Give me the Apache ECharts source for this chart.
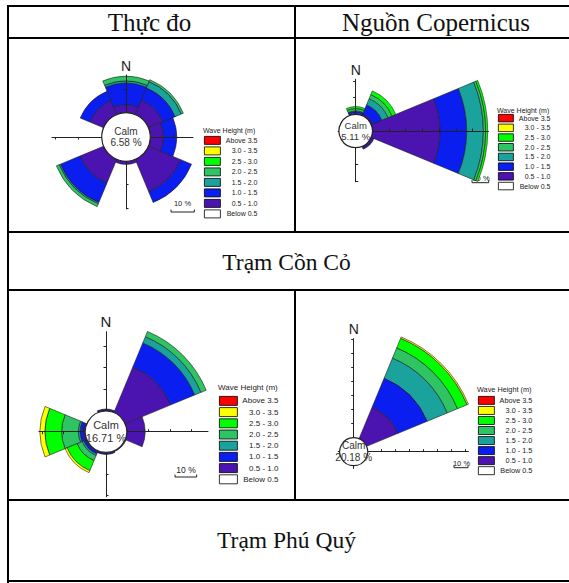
<!DOCTYPE html>
<html>
<head>
<meta charset="utf-8">
<script src="https://cdn.jsdelivr.net/npm/echarts@6/dist/echarts.min.js"></script>
<style>
html,body{margin:0;padding:0;background:#fff;width:569px;height:583px;overflow:hidden;}
#page{position:relative;width:569px;height:583px;}
#chart{position:absolute;left:0;top:0;width:569px;height:583px;}
.ln{position:absolute;background:#000;z-index:5;}
.tx{position:absolute;font-family:"Liberation Serif","Times New Roman",serif;font-size:25px;color:#111;text-align:center;white-space:nowrap;z-index:5;}
.st{font-size:23.5px;}
</style>
</head>
<body>
<div id="page">
  <div id="chart"></div>
  <div class="ln" style="left:7px;top:5px;width:2px;height:578px"></div>
  <div class="ln" style="left:7px;top:5px;width:562px;height:2px"></div>
  <div class="ln" style="left:7px;top:37px;width:562px;height:2px"></div>
  <div class="ln" style="left:294px;top:5px;width:2px;height:228px"></div>
  <div class="ln" style="left:7px;top:231px;width:562px;height:2px"></div>
  <div class="ln" style="left:7px;top:289px;width:562px;height:2px"></div>
  <div class="ln" style="left:294px;top:289px;width:2px;height:212px"></div>
  <div class="ln" style="left:7px;top:499px;width:562px;height:2px"></div>
  <div class="ln" style="left:7px;top:580px;width:562px;height:2px"></div>
  <div class="tx" id="h0" style="left:7px;width:285px;top:7px;height:30px;line-height:31px"></div>
  <div class="tx" id="h1" style="left:296px;width:280px;top:7px;height:30px;line-height:31px"></div>
  <div class="tx st" id="s0" style="left:5px;width:563px;top:233px;height:56px;line-height:58px"></div>
  <div class="tx st" id="s1" style="left:5px;width:563px;top:501px;height:79px;line-height:79px"></div>
</div>
<script>
// ---------- text ----------
const headerLabels = ['Thực đo', 'Nguồn Copernicus'];
const stationLabels = ['Trạm Cồn Cỏ', 'Trạm Phú Quý'];
const legendTitle = 'Wave Height (m)';
const calmTitle = 'Calm';
const scaleLabel = '10 %';
const northLabel = 'N';

// ---------- categories ----------
const directions = ['N', 'NE', 'E', 'SE', 'S', 'SW', 'W', 'NW'];
const waveBins = ['Above 3.5', '3.0 - 3.5', '2.5 - 3.0', '2.0 - 2.5', '1.5 - 2.0', '1.0 - 1.5', '0.5 - 1.0', 'Below 0.5'];

// ---------- data (% frequency per direction) ----------
// Con Co - measured
const conCoObsCalm = 6.58;
const conCoObs_05_10 = [3.4, 6.7, 5.6, 15.0, 1.3, 11.0, 0, 6.4];
const conCoObs_10_15 = [9.3, 5.7, 5.7, 5.0, 0, 9.0, 0, 4.4];
const conCoObs_15_20 = [0.9, 2.9, 0, 0, 0, 0.6, 0, 0];
const conCoObs_20_25 = [2.0, 0.9, 0, 0, 0, 1.3, 0, 0];
const conCoObs_25_30 = [0, 0, 0, 0, 0, 0, 0, 0];
const conCoObs_30_35 = [0, 0, 0, 0, 0, 0, 0, 0];
const conCoObs_above35 = [0, 0, 0, 0, 0, 0, 0, 0];

// Con Co - Copernicus
const conCoCopCalm = 5.11;
const conCoCop_05_10 = [0.4, 1.0, 40.6, 1.2, 0, 0, 0, 0];
const conCoCop_10_15 = [1.2, 6.0, 16.0, 0.6, 0, 0, 0, 0];
const conCoCop_15_20 = [0.4, 4.0, 10.0, 0, 0, 0, 0, 0];
const conCoCop_20_25 = [1.4, 2.6, 1.4, 0, 0, 0, 0, 0];
const conCoCop_25_30 = [1.2, 2.4, 1.2, 0, 0, 0, 0, 0];
const conCoCop_30_35 = [0, 0, 0, 0, 0, 0, 0, 0];
const conCoCop_above35 = [0, 0, 0, 0, 0, 0, 0, 0];

// Phu Quy - measured
const phuQuyObsCalm = 16.71;
const phuQuyObs_05_10 = [0.5, 22.8, 8.5, 0.4, 0.6, 0.6, 0.9, 0];
const phuQuyObs_10_15 = [0.4, 12.0, 0, 0, 0.3, 1.0, 1.5, 0];
const phuQuyObs_15_20 = [0, 3.1, 0, 0, 0, 0.8, 0.8, 0];
const phuQuyObs_20_25 = [0, 2.6, 0, 0, 0, 2.5, 7.7, 0];
const phuQuyObs_25_30 = [0, 0, 0, 0, 0, 5.0, 7.7, 0];
const phuQuyObs_30_35 = [0, 0, 0, 0, 0, 1.0, 2.3, 0];
const phuQuyObs_above35 = [0, 0, 0, 0, 0, 0, 0, 0];

// Phu Quy - Copernicus
const phuQuyCopCalm = 20.18;
const phuQuyCop_05_10 = [0, 24.3, 0, 0, 0, 0, 0, 0];
const phuQuyCop_10_15 = [0, 22.6, 0, 0, 0, 0, 0, 0];
const phuQuyCop_15_20 = [0, 15.5, 0, 0, 0, 0, 0, 0];
const phuQuyCop_20_25 = [0, 7.9, 0, 0, 0, 0, 0, 0];
const phuQuyCop_25_30 = [0, 7.4, 0, 0, 0, 0, 0, 0];
const phuQuyCop_30_35 = [0, 1.0, 0, 0, 0, 0, 0, 0];
const phuQuyCop_above35 = [0, 0, 0, 0, 0, 0, 0, 0];

document.getElementById('h0').textContent = headerLabels[0];
document.getElementById('h1').textContent = headerLabels[1];
document.getElementById('s0').textContent = stationLabels[0];
document.getElementById('s1').textContent = stationLabels[1];

// ---------- styles ----------
const binColors = {
  'Above 3.5': '#ff0000', '3.0 - 3.5': '#ffff00', '2.5 - 3.0': '#00ff00', '2.0 - 2.5': '#2ec463',
  '1.5 - 2.0': '#1aa39c', '1.0 - 1.5': '#0b1ef0', '0.5 - 1.0': '#4b14b0', 'Below 0.5': '#ffffff'
};
const stackOrder = ['0.5 - 1.0', '1.0 - 1.5', '1.5 - 2.0', '2.0 - 2.5', '2.5 - 3.0', '3.0 - 3.5', 'Above 3.5'];
const SANS = '"Liberation Sans", Arial, sans-serif';

const roses = [
  { key: 'A', calm: conCoObsCalm,
    bins: [conCoObs_05_10, conCoObs_10_15, conCoObs_15_20, conCoObs_20_25, conCoObs_25_30, conCoObs_30_35, conCoObs_above35],
    center: [126, 137], ppp: 2.333, calmPx: 24.3, maxPct: 24,
    arms: { N: 62, E: 67, S: 72, W: 74 }, nGap: 2, nSize: 14, calmFs: 10,
    lg: { x: 204, y: 136, w: 16, h: 8, pitch: 9.7, tw: 32, fs: 7, ty: 127 },
    sb: { x: 171, y: 212, tx: 182.5, ty: 203, fs: 7.5 } },
  { key: 'B', calm: conCoCopCalm,
    bins: [conCoCop_05_10, conCoCop_10_15, conCoCop_15_20, conCoCop_20_25, conCoCop_25_30, conCoCop_30_35, conCoCop_above35],
    center: [355.7, 131], ppp: 1.667, calmPx: 16.7, maxPct: 71,
    arms: { N: 51.7, E: 132.7, S: 50.7, W: 17.6 }, nGap: 2, nSize: 14, calmFs: 9.5,
    lg: { x: 498, y: 114, w: 15, h: 7.5, pitch: 8.9, tw: 32, fs: 7, ty: 107 },
    sb: { x: 472, y: 182.7, tx: 481, ty: 178, fs: 7.5 } },
  { key: 'C', calm: phuQuyObsCalm,
    bins: [phuQuyObs_05_10, phuQuyObs_10_15, phuQuyObs_15_20, phuQuyObs_20_25, phuQuyObs_25_30, phuQuyObs_30_35, phuQuyObs_above35],
    center: [106, 431.7], ppp: 2.167, calmPx: 20.7, maxPct: 42,
    arms: { N: 100, E: 102, S: 65, W: 67 }, nGap: 3, nSize: 15, calmFs: 11,
    lg: { x: 219, y: 396, w: 18, h: 9, pitch: 10.4, tw: 36, fs: 8, ty: 383 },
    sb: { x: 175, y: 477, tx: 186, ty: 470, fs: 8.5 } },
  { key: 'D', calm: phuQuyCopCalm,
    bins: [phuQuyCop_05_10, phuQuyCop_10_15, phuQuyCop_15_20, phuQuyCop_20_25, phuQuyCop_25_30, phuQuyCop_30_35, phuQuyCop_above35],
    center: [353.7, 451.7], ppp: 1.4, calmPx: 14, maxPct: 80,
    arms: { N: 113, E: 114.7, S: 16.7, W: 15.5 }, nGap: 3, nSize: 14, calmFs: 10,
    lg: { x: 478, y: 396, w: 16, h: 8, pitch: 9.24, tw: 33, fs: 7.3, ty: 386 },
    sb: { x: 454, y: 467.7, tx: 461.5, ty: 463, fs: 7.5 } }
];

const polar = [], angleAxis = [], radiusAxis = [], series = [], legend = [], title = [], graphic = [];
const armAngles = { N: 90, E: 0, S: 270, W: 180 };

roses.forEach(r => {
  const pIdx = polar.length;
  const outer = r.calmPx + r.maxPct * r.ppp;
  polar.push({ center: r.center, radius: [r.calmPx, outer] });
  angleAxis.push({ polarIndex: pIdx, type: 'category', data: directions, startAngle: 112.5, clockwise: true, show: false, boundaryGap: true });
  radiusAxis.push({ polarIndex: pIdx, type: 'value', min: 0, max: r.maxPct, show: false });
  stackOrder.forEach((bin, i) => {
    series.push({
      type: 'bar', coordinateSystem: 'polar', polarIndex: pIdx, name: bin, stack: 'rose' + r.key,
      data: r.bins[i].map(v => (v > 0 ? v : null)), barCategoryGap: '0%', silent: true, z: 2,
      itemStyle: { color: binColors[bin], borderColor: '#1c1c1c', borderWidth: 0.6 }
    });
  });
  // crosshair arms
  Object.keys(armAngles).forEach(d => {
    const idx = polar.length;
    const len = r.arms[d];
    const maxV = Math.max(0.01, (len - r.calmPx) / r.ppp);
    const ticks = [];
    for (let t = 10; t < maxV; t += 10) ticks.push(t);
    polar.push({ center: r.center, radius: [r.calmPx, len] });
    angleAxis.push({ polarIndex: idx, type: 'value', min: 0, max: 360, startAngle: armAngles[d], show: false });
    radiusAxis.push({
      polarIndex: idx, type: 'value', min: 0, max: maxV, z: 10,
      axisLine: { show: true, lineStyle: { color: '#222', width: 1 } },
      axisTick: { show: true, customValues: ticks, length: 2.5, lineStyle: { color: '#222', width: 1 } },
      axisLabel: { show: false }, splitLine: { show: false },
      name: d === 'N' ? northLabel : '', nameLocation: 'end', nameGap: r.nGap,
      nameTextStyle: { fontSize: r.nSize, fontFamily: SANS, color: '#1a1a1a' }
    });
  });
  // calm circle
  series.push({
    type: 'pie', center: r.center, radius: [0, r.calmPx], silent: true, z: 20, legendHoverLink: false,
    data: [{ value: r.calm, name: calmTitle }],
    itemStyle: { color: '#ffffff', borderColor: '#222', borderWidth: 1.2 },
    label: { position: 'center', formatter: calmTitle + '\n' + r.calm.toFixed(2) + ' %', fontSize: r.calmFs, lineHeight: r.calmFs + 1.5, color: '#333', fontFamily: SANS },
    labelLine: { show: false }, emphasis: { disabled: true }
  });
  // legend
  legend.push({
    left: r.lg.x, top: r.lg.y, orient: 'vertical', icon: 'rect', itemWidth: r.lg.w, itemHeight: r.lg.h,
    itemGap: r.lg.pitch - r.lg.h, selectedMode: false, padding: 0, data: waveBins,
    itemStyle: { borderColor: '#000', borderWidth: 0.8 },
    formatter: name => '{t|' + name + '}',
    textStyle: { rich: { t: { width: r.lg.tw, align: 'right', fontSize: r.lg.fs, lineHeight: r.lg.h, fontFamily: SANS, color: '#222' } } }
  });
  title.push({ text: legendTitle, left: r.lg.x - 1, top: r.lg.ty, padding: 0,
    textStyle: { fontSize: r.lg.fs, fontWeight: 'normal', fontFamily: SANS, color: '#222' } });
  // 10% scale bar
  const x1 = r.sb.x + 10 * r.ppp;
  graphic.push({ type: 'polyline', silent: true, shape: { points: [[r.sb.x, r.sb.y - 2.5], [r.sb.x, r.sb.y], [x1, r.sb.y], [x1, r.sb.y - 2.5]] },
    style: { stroke: '#222', fill: null, lineWidth: 1 } });
  graphic.push({ type: 'text', silent: true, x: r.sb.tx, y: r.sb.ty,
    style: { text: scaleLabel, fontSize: r.sb.fs, fontFamily: SANS, fill: '#222', textAlign: 'center', textVerticalAlign: 'middle' } });
});

// empty series only to give the "Below 0.5" legend swatch
series.push({ type: 'bar', coordinateSystem: 'polar', polarIndex: 0, name: 'Below 0.5', stack: 'roseA',
  data: directions.map(() => null), barCategoryGap: '0%', itemStyle: { color: binColors['Below 0.5'] } });

const chart = echarts.init(document.getElementById('chart'), null, { renderer: 'svg', width: 569, height: 583 });
chart.setOption({
  animation: false,
  backgroundColor: '#ffffff',
  title, legend, polar, angleAxis, radiusAxis, series, graphic
});
</script>
</body>
</html>
